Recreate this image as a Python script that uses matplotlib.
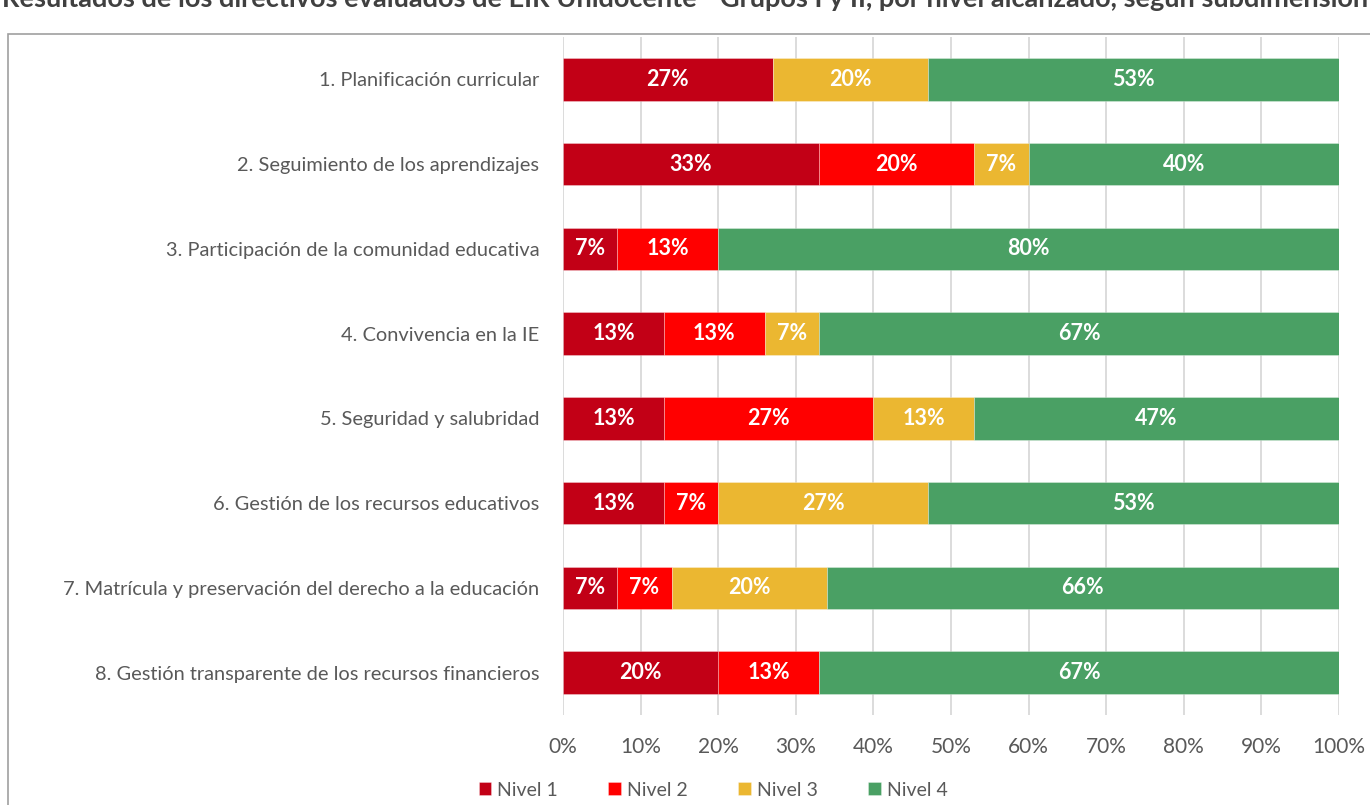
import matplotlib
matplotlib.use("Agg")
import matplotlib.pyplot as plt
from matplotlib.patches import Rectangle
import numpy as np

categories = [
    "1. Planificación curricular",
    "2. Seguimiento de los aprendizajes",
    "3. Participación de la comunidad educativa",
    "4. Convivencia en la IE",
    "5. Seguridad y salubridad",
    "6. Gestión de los recursos educativos",
    "7. Matrícula y preservación del derecho a la educación",
    "8. Gestión transparente de los recursos financieros",
]
series_names = ["Nivel 1", "Nivel 2", "Nivel 3", "Nivel 4"]
nivel1 = [27, 33, 7, 13, 13, 13, 7, 20]
nivel2 = [0, 20, 13, 13, 27, 7, 7, 13]
nivel3 = [20, 7, 0, 7, 13, 27, 20, 0]
nivel4 = [53, 40, 80, 67, 47, 53, 66, 67]
xticks = [0, 10, 20, 30, 40, 50, 60, 70, 80, 90, 100]
title = ("Resultados de los directivos evaluados de EIR Unidocente - Grupos I y II, "
         "por nivel alcanzado, según subdimensión")

colors = ["#C20016", "#FF0000", "#EBB731", "#4AA064"]
plt.rcParams['font.family'] = ['Lato', 'DejaVu Sans']

W, H = 1370, 805
fig = plt.figure(figsize=(W / 100, H / 100), dpi=100)
ax = fig.add_axes([563 / W, 1 - 715 / H, (1339 - 563) / W, (715 - 37) / H])

series = [nivel1, nivel2, nivel3, nivel4]
y = np.arange(len(categories))
left = np.zeros(len(categories))
for name, vals, c in zip(series_names, series, colors):
    vals = np.array(vals, dtype=float)
    ax.barh(y, vals, left=left, height=0.5, color=c, label=name,
            edgecolor=(1, 1, 1, 0.35), linewidth=0.6, zorder=3)
    for yi, l, v in zip(y, left, vals):
        if v > 0:
            ax.text(l + v / 2, yi, f"{int(v)}%", ha="center", va="center",
                    color="white", fontsize=15.5, fontweight="bold", zorder=4)
    left += vals

ax.set_xlim(0, 100)
ax.set_ylim(len(categories) - 0.5, -0.5)
ax.set_xticks(xticks)
ax.set_xticklabels([f"{t}%" for t in xticks], fontsize=15, color="#595959")
ax.set_yticks(y)
ax.set_yticklabels(categories, fontsize=14.4, color="#595959")
ax.tick_params(axis="both", length=0)
ax.tick_params(axis="x", pad=16)
ax.tick_params(axis="y", pad=17)
ax.grid(axis="x", color="#D9D9D9", linewidth=1.3, zorder=0)
for s in ax.spines.values():
    s.set_visible(False)

leg = fig.legend(loc="center", bbox_to_anchor=(713 / W, 1 - 790 / H), ncol=4,
                 frameon=False, fontsize=14, handlelength=0.65, handleheight=0.65,
                 columnspacing=2.6, handletextpad=0.3)
for t in leg.get_texts():
    t.set_color("#595959")

fig.patches.append(Rectangle((8 / W, -0.05), 1.1, (805 - 34) / H + 0.05,
                             transform=fig.transFigure, fill=False,
                             edgecolor="#A0A0A0", linewidth=1.2))
fig.text(2 / W, 1 - 7 / H, title, fontsize=19.5, fontweight="bold",
         color="#404040", ha="left", va="baseline")

fig.savefig("out.png", dpi=100)
